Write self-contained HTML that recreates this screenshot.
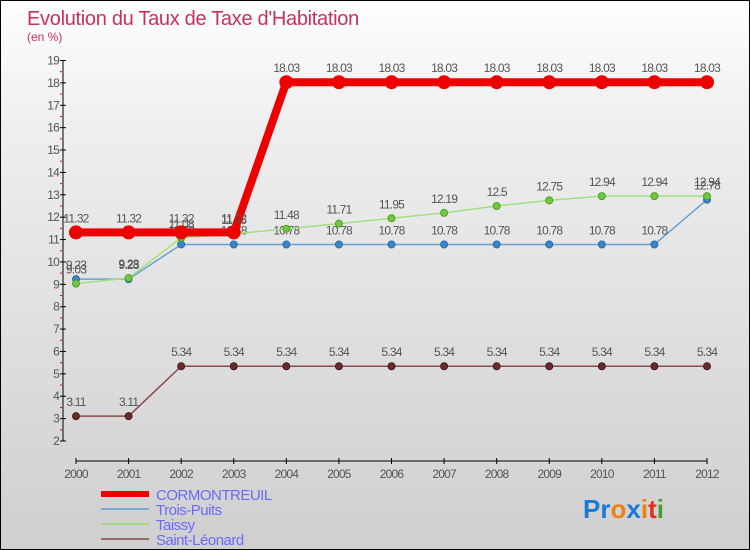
<!DOCTYPE html>
<html><head><meta charset="utf-8"><style>
body{margin:0;width:750px;height:550px;overflow:hidden;font-family:"Liberation Sans",sans-serif}
#c{position:absolute;left:0;top:0;width:748px;height:548px;border:1px solid #000;background:linear-gradient(#ffffff,#f0f0f0 20%,#cfcfcf)}
</style></head><body>
<div id="c">
<svg width="748" height="548" id="s" style="position:absolute;left:0;top:0" font-family="Liberation Sans, sans-serif">
<text x="26" y="24" font-size="20" fill="#c8305f" letter-spacing="-0.3">Evolution du Taux de Taxe d'Habitation</text>
<text x="26" y="40" font-size="12" fill="#c8305f">(en %)</text>
<g id="ax"></g><g id="marks"></g>
<g>
<line x1="100" y1="493" x2="148" y2="493" stroke="#e00" stroke-width="6"/>
<text x="155" y="499" font-size="15" fill="#6a6aff" letter-spacing="-0.5">CORMONTREUIL</text>
<line x1="100" y1="508" x2="148" y2="508" stroke="#7aaad0" stroke-width="2"/>
<text x="155" y="514" font-size="15" fill="#6a6aff" letter-spacing="-0.5">Trois-Puits</text>
<line x1="100" y1="523" x2="148" y2="523" stroke="#a0d880" stroke-width="2"/>
<text x="155" y="529" font-size="15" fill="#6a6aff" letter-spacing="-0.5">Taissy</text>
<line x1="100" y1="538" x2="148" y2="538" stroke="#9a6a6a" stroke-width="2"/>
<text x="155" y="544" font-size="15" fill="#6a6aff" letter-spacing="-0.5">Saint-Léonard</text>
</g>
<text x="582" y="517" font-size="26" font-weight="bold"><tspan fill="#1a7ad8">Pr</tspan><tspan fill="#f08010">o</tspan><tspan fill="#1a7ad8">x</tspan><tspan fill="#f08010">i</tspan><tspan fill="#e03020">t</tspan><tspan fill="#40a030">i</tspan></text>
</svg></div>
<script>
const years=[2000,2001,2002,2003,2004,2005,2006,2007,2008,2009,2010,2011,2012];
const cormontreuil=[11.32,11.32,11.32,11.32,18.03,18.03,18.03,18.03,18.03,18.03,18.03,18.03,18.03];
const troisPuits=[9.23,9.23,10.78,10.78,10.78,10.78,10.78,10.78,10.78,10.78,10.78,10.78,12.78];
const taissy=[9.03,9.28,11.08,11.25,11.48,11.71,11.95,12.19,12.5,12.75,12.94,12.94,12.94];
const saintLeonard=[3.11,3.11,5.34,5.34,5.34,5.34,5.34,5.34,5.34,5.34,5.34,5.34,5.34];
const yTicks=[2,3,4,5,6,7,8,9,10,11,12,13,14,15,16,17,18,19];
const NS="http://www.w3.org/2000/svg";
const X=i=>75+i*(706-75)/(years.length-1);
const Y=v=>440-(v-2)*(440-59.5)/17;
function mk(t,a,p){const e=document.createElementNS(NS,t);for(const k in a)e.setAttribute(k,a[k]);p.appendChild(e);return e;}
const ax=document.getElementById('ax'),mg=document.getElementById('marks');
let l=mk('line',{x1:62,y1:Y(19),x2:62,y2:440,stroke:'#000'},ax);


yTicks.forEach(v=>{mk('line',{x1:59,y1:Y(v),x2:65,y2:Y(v),stroke:'#000'},ax);
 if(v<19)mk('line',{x1:59,y1:Y(v+0.5),x2:61,y2:Y(v+0.5),stroke:'#e00'},ax);
 const t=mk('text',{x:58,y:Y(v)+4,'text-anchor':'end','font-size':12,fill:'#555','letter-spacing':'-0.8'},ax);t.textContent=v;
 
 });
l=mk('line',{x1:X(0),y1:460,x2:X(12),y2:460,stroke:'#000'},ax);


years.forEach((y,i)=>{mk('line',{x1:X(i),y1:457,x2:X(i),y2:463,stroke:'#000'},ax);
 const t=mk('text',{x:X(i),y:477,'text-anchor':'middle','font-size':12,fill:'#555','letter-spacing':'-0.8'},ax);t.textContent=y;
 
 });
function series(d,name,col,w,r,fill,stroke){
 const g=mk('g',{},mg);
 
 
 mk('polyline',{points:d.map((v,i)=>X(i)+','+Y(v)).join(' '),fill:'none',stroke:col,'stroke-width':w,'stroke-linejoin':'round'},g);
 d.forEach((v,i)=>{const c=mk('circle',{cx:X(i),cy:Y(v),r:r,fill:fill,stroke:stroke,'stroke-width':1},g);
  
  
  const t=mk('text',{x:X(i),y:Y(v)-10,'text-anchor':'middle','font-size':12,fill:'#555','letter-spacing':'-0.8'},g);t.textContent=v;
  
  });
}
series(saintLeonard,'saint-leonard','#8a4a4a',1.5,3.5,'#6a2a2a','#4a1a1a');
series(troisPuits,'trois-puits','#6aa0d0',1.5,3.5,'#3a88c8','#2a68a8');
series(taissy,'taissy','#a0e080',1.5,3.5,'#70c840','#50a020');
series(cormontreuil,'cormontreuil','#ee0000',8,6.5,'#ee0000','#ee0000');
</script>
</body></html>
